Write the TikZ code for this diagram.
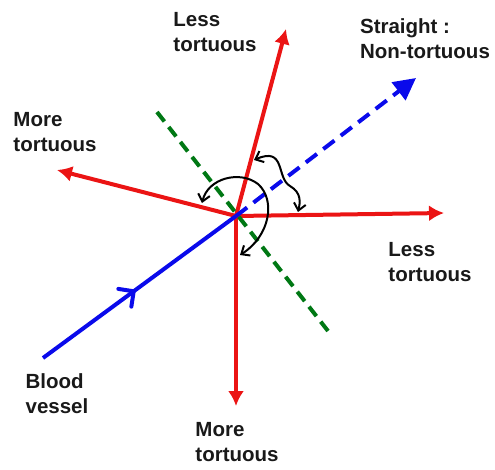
\documentclass[tikz,border=0pt]{standalone}
\usepackage{fontspec}
\setmainfont{Liberation Sans}
\usetikzlibrary{arrows.meta}

\definecolor{branchred}{RGB}{235,20,20}
\definecolor{vesselblue}{RGB}{10,10,235}
\definecolor{cutgreen}{RGB}{0,120,20}

\begin{document}
\begin{tikzpicture}[x=1pt,y=-1pt,
    lbl/.style={font=\fontsize{20.5}{25}\selectfont\bfseries, align=left, text=black!90},
    branch/.style={branchred, line width=4pt, -{Latex[length=15pt,width=16pt]}},
    vessel/.style={vesselblue, line width=4pt},
    angle/.style={black, line width=2pt, {Straight Barb[length=7pt,width=12pt]}-{Straight Barb[length=7pt,width=12pt]}}]
    \useasboundingbox (0,0) rectangle (495,469);

    % Branch point and end points
    \coordinate (O) at (236,216);
    \coordinate (up) at (286,29);
    \coordinate (right) at (444,213);
    \coordinate (left) at (57,170);
    \coordinate (down) at (236,406);
    \coordinate (straight) at (416,78);
    \coordinate (start) at (43,358);
    \coordinate (cutA) at (157,112);
    \coordinate (cutB) at (328,331);
    \path (start) -- (O) coordinate[pos=0.47] (mid);

    % Red branches
    \draw[branch] (O) -- (up);
    \draw[branch] (O) -- (right);
    \draw[branch] (O) -- (left);
    \draw[branch] (O) -- (down);

    % Blood vessel and straight continuation
    \draw[vessel] (start) -- (O);
    \draw[vessel, line cap=round, line join=round, shift={(mid)}, rotate=36.3]
        (-11pt,11pt) -- (0pt,0pt) -- (-11pt,-11pt);
    \draw[vessel, dash pattern=on 14pt off 8pt,
        -{Triangle[length=22pt,width=22pt]}] (O) -- (straight);

    % Green dashed line
    \draw[cutgreen, line width=4pt, dash pattern=on 12pt off 7pt] (cutA) -- (cutB);

    % Angle arrows
    \draw[angle] (254,160) .. controls (286,146) and (276,178) .. (290,186)
        .. controls (302,193) and (300,203) .. (298,212);
    \draw[angle] (202,203) .. controls (208,178) and (240,170) .. (258,184)
        .. controls (276,200) and (270,236) .. (240,255);

    % Labels
    \node[lbl] (lessup) at (215,32) {Less\\tortuous};
    \node[lbl] (straightlbl) at (425,39) {Straight :\\Non-tortuous};
    \node[lbl] (moreleft) at (55,132) {More\\tortuous};
    \node[lbl] (lessright) at (430,262) {Less\\tortuous};
    \node[lbl] (blood) at (57,394) {Blood\\vessel};
    \node[lbl] (moredown) at (237,442) {More\\tortuous};
\end{tikzpicture}
\end{document}
